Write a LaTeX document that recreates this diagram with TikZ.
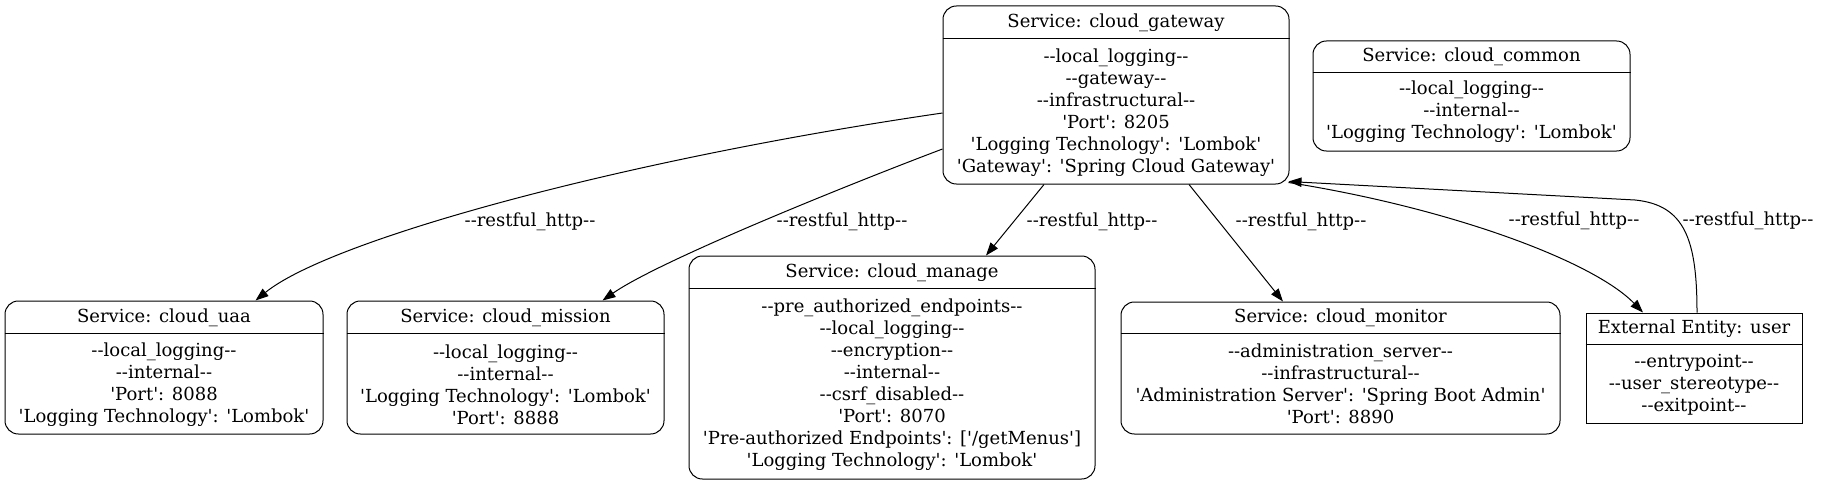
\documentclass[tikz,border=0pt]{standalone}
\usepackage{fontspec}
\setmainfont{DejaVu Serif}[Ligatures=TeXOff]
\usetikzlibrary{arrows.meta,calc}
\begin{document}
\begin{tikzpicture}[x=0.75pt,y=-0.75pt,
  box/.style={draw, line width=0.75pt, rounded corners=10pt, inner sep=0pt},
  ebox/.style={draw, line width=0.75pt, inner sep=0pt},
  txt/.style={inner sep=0pt, align=center, font=\fontsize{13.5}{16.5}\selectfont},
  lbl/.style={inner sep=0pt, font=\fontsize{13.5}{16.5}\selectfont},
  conn/.style={line width=0.75pt, -{Triangle[length=9.75pt,width=7pt]}},
  sepline/.style={line width=0.75pt}
]
\useasboundingbox (0,0) rectangle (1821,485);

% cloud_gateway
\node[box, minimum width=259.5pt, minimum height=133.5pt] (gw) at (1116,95) {};
\draw[sepline] ($(gw.north west)+(0,33)$) -- ($(gw.north east)+(0,33)$);
\node[txt] (gwt) at (1116,22.5) {Service: cloud\_gateway};
\node[txt] (gwb) at (1116,112.5) {--local\_logging--\\--gateway--\\--infrastructural--\\'Port': 8205\\'Logging Technology': 'Lombok'\\'Gateway': 'Spring Cloud Gateway'};

% cloud_common
\node[box, minimum width=237.75pt, minimum height=82.5pt] (cm) at (1471.5,96) {};
\draw[sepline] ($(cm.north west)+(0,32)$) -- ($(cm.north east)+(0,32)$);
\node[txt] (cmt) at (1471.5,57) {Service: cloud\_common};
\node[txt] (cmb) at (1471.5,112) {--local\_logging--\\--internal--\\'Logging Technology': 'Lombok'};

% cloud_uaa
\node[box, minimum width=238.5pt, minimum height=99.75pt] (uaa) at (164,367.5) {};
\draw[sepline] ($(uaa.north west)+(0,33)$) -- ($(uaa.north east)+(0,33)$);
\node[txt] (uaat) at (164,318) {Service: cloud\_uaa};
\node[txt] (uaab) at (164,385) {--local\_logging--\\--internal--\\'Port': 8088\\'Logging Technology': 'Lombok'};

% cloud_mission
\node[box, minimum width=237.75pt, minimum height=99.75pt] (mis) at (505.5,367.5) {};
\draw[sepline] ($(mis.north west)+(0,33)$) -- ($(mis.north east)+(0,33)$);
\node[txt] (mist) at (505.5,318) {Service: cloud\_mission};
\node[txt] (misb) at (505.5,385) {--local\_logging--\\--internal--\\'Logging Technology': 'Lombok'\\'Port': 8888};

% cloud_manage
\node[box, minimum width=304.5pt, minimum height=167.25pt] (man) at (892,367.5) {};
\draw[sepline] ($(man.north west)+(0,33)$) -- ($(man.north east)+(0,33)$);
\node[txt] (mant) at (892,273) {Service: cloud\_manage};
\node[txt] (manb) at (892,385) {--pre\_authorized\_endpoints--\\--local\_logging--\\--encryption--\\--internal--\\--csrf\_disabled--\\'Port': 8070\\'Pre-authorized Endpoints': ['/getMenus']\\'Logging Technology': 'Lombok'};

% cloud_monitor
\node[box, minimum width=329.25pt, minimum height=99pt] (mon) at (1340.5,368) {};
\draw[sepline] ($(mon.north west)+(0,32)$) -- ($(mon.north east)+(0,32)$);
\node[txt] (mont) at (1340.5,318) {Service: cloud\_monitor};
\node[txt] (monb) at (1340.5,384) {--administration\_server--\\--infrastructural--\\'Administration Server': 'Spring Boot Admin'\\'Port': 8890};

% user
\node[ebox, minimum width=162pt, minimum height=82.5pt] (usr) at (1694,368) {};
\draw[sepline] ($(usr.north west)+(0,32)$) -- ($(usr.north east)+(0,32)$);
\node[txt] (usrt) at (1694,329) {External Entity: user};
\node[txt] (usrb) at (1694,384.5) {--entrypoint--\\--user\_stereotype--\\--exitpoint--};

% connectors
\draw[conn] ($(gw.west)+(0,18)$) .. controls (620,160) and (330,240) .. ($(uaa.north east)+(-68,0)$);
\draw[conn] ($(gw.west)+(0,54)$) .. controls (863,179) and (662,259) .. ($(mis.north east)+(-62,0)$);
\draw[conn] ($(gw.south)+(-72,0)$) -- ($(man.north)+(94,0)$);
\draw[conn] ($(gw.south)+(73,0)$) -- ($(mon.north)+(-57.5,0)$);
\draw[conn] ($(gw.south east)+(-1,-2)$) .. controls (1450,208) and (1593,261) .. ($(usr.north)+(-51,0)$);
\draw[conn] ($(usr.north)+(3,0)$) .. controls (1697,240) and (1685,205) .. (1635,200) -- ($(gw.south east)+(-1,-3)$);

% labels
\node[lbl] (l1) at (530,222) {--restful\_http--};
\node[lbl] (l2) at (842,222) {--restful\_http--};
\node[lbl] (l3) at (1092,222) {--restful\_http--};
\node[lbl] (l4) at (1301,222) {--restful\_http--};
\node[lbl] (l5) at (1574,221) {--restful\_http--};
\node[lbl] (l6) at (1748,221) {--restful\_http--};
\end{tikzpicture}
\end{document}
